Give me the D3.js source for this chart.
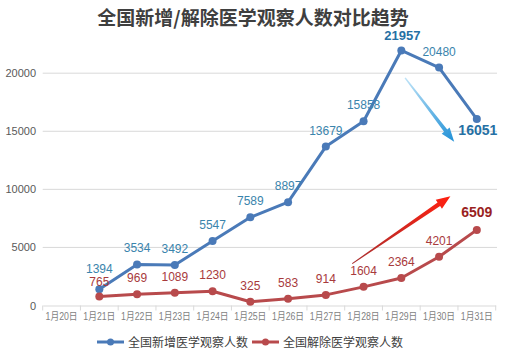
<!DOCTYPE html>
<html><head><meta charset="utf-8">
<script src="https://cdn.jsdelivr.net/npm/d3@7"></script>
<style>body{margin:0;background:#fff}svg{display:block}</style>
</head><body>
<svg id="c" width="508" height="356"></svg>
<script>
const title = "全国新增/解除医学观察人数对比趋势";
const categories = ["1月20日","1月21日","1月22日","1月23日","1月24日","1月25日","1月26日","1月27日","1月28日","1月29日","1月30日","1月31日"];
const seriesNames = ["全国新增医学观察人数","全国解除医学观察人数"];
const newObs = [null,1394,3534,3492,5547,7589,8897,13679,15858,21957,20480,16051];
const releasedObs = [null,765,969,1089,1230,325,583,914,1604,2364,4201,6509];
const yTicks = [0,5000,10000,15000,20000];

const svg = d3.select("#c");
const x = d3.scaleBand().domain(categories).range([42.7, 495.7]).paddingInner(0).paddingOuter(0);
const y = d3.scaleLinear().domain([0,20000]).range([305.5, 73.2]);
const font = "'Liberation Sans', Arial, sans-serif";

// gridlines
svg.append("g").selectAll("line").data(yTicks.slice(1)).join("line")
  .attr("x1",42.7).attr("x2",497).attr("y1",d=>y(d)).attr("y2",d=>y(d))
  .attr("stroke","#d9d9d9").attr("stroke-width",1);

// y axis labels
const ya = svg.append("g").attr("transform","translate(36,0)")
  .call(d3.axisLeft(y).tickValues(yTicks).tickSize(0).tickPadding(0).tickFormat(d3.format("d")));
ya.select(".domain").remove();
ya.selectAll("text").attr("font-family",font).attr("font-size",11).attr("fill","#595959");

// x axis
const xa = svg.append("g").attr("transform",`translate(0,${y(0)})`)
  .call(d3.axisBottom(x).tickSize(0).tickPadding(7));
xa.select(".domain").attr("stroke","#d9d9d9");
xa.selectAll("text").attr("font-family","'Liberation Sans','Noto Sans CJK SC', sans-serif").attr("font-size",10)
  .attr("fill","#7f7f7f").attr("textLength",32).attr("lengthAdjust","spacingAndGlyphs");
// tick marks at band boundaries
svg.append("g").selectAll("line").data(categories.concat(["end"])).join("line")
  .attr("x1",(d,i)=>x.range()[0]+i*x.step()).attr("x2",(d,i)=>x.range()[0]+i*x.step())
  .attr("y1",y(0)).attr("y2",y(0)+5).attr("stroke","#d9d9d9");

// title
svg.append("text").attr("x",253).attr("y",25).attr("text-anchor","middle")
  .attr("font-family","'Noto Sans CJK SC', sans-serif").attr("font-weight","bold")
  .attr("font-size",19).attr("fill","#3f3f3f").text(title);

// arrows (annotations)
const defs = svg.append("defs");
const gb = defs.append("linearGradient").attr("id","gb").attr("gradientUnits","userSpaceOnUse")
  .attr("x1",x("1月29日")+x.bandwidth()*0.6).attr("y1",y(19600)).attr("x2",x("1月31日")).attr("y2",y(14200));
gb.append("stop").attr("offset",0).attr("stop-color","#bfe3f7");
gb.append("stop").attr("offset",1).attr("stop-color","#1e8fd6");
const gr = defs.append("linearGradient").attr("id","gr").attr("gradientUnits","userSpaceOnUse")
  .attr("x1",x("1月28日")+x.bandwidth()*0.2).attr("y1",y(3600)).attr("x2",x("1月30日")+x.bandwidth()*0.8).attr("y2",y(9400));
gr.append("stop").attr("offset",0).attr("stop-color","#a83030");
gr.append("stop").attr("offset",1).attr("stop-color","#ff2010");

function arrow(x1,y1,x2,y2,fill,w0,w1,head,hw){
  const dx=x2-x1, dy=y2-y1, L=Math.hypot(dx,dy), ux=dx/L, uy=dy/L, nx=-uy, ny=ux;
  const bx=x2-ux*head, by=y2-uy*head;
  const pts=[[x1+nx*w0/2,y1+ny*w0/2],[bx+nx*w1/2,by+ny*w1/2],[bx+nx*hw/2,by+ny*hw/2],[x2,y2],
    [bx-nx*hw/2,by-ny*hw/2],[bx-nx*w1/2,by-ny*w1/2],[x1-nx*w0/2,y1-ny*w0/2]];
  svg.append("path").attr("d",d3.line()(pts)+"Z").attr("fill",fill);
}
arrow(x("1月29日")+x.bandwidth()*0.6, y(19600), x("1月31日")-x.bandwidth()*0.1, y(14100), "url(#gb)", 1.5, 4, 14, 10);
arrow(x("1月28日")+x.bandwidth()*0.2, y(3600), x("1月30日")+x.bandwidth()*0.8, y(9400), "url(#gr)", 1, 4.5, 14, 11);

// series
const cx = d => x(d) + x.bandwidth()/2;
const series = [
  {name:seriesNames[0], values:newObs, color:"#4a7ab8", label:"#3a84ac", bold:"#2670a4"},
  {name:seriesNames[1], values:releasedObs, color:"#b84a4c", label:"#a83a3c", bold:"#9a1f22"}
];
series.forEach(s=>{
  const pts = categories.map((c,i)=>({c, v:s.values[i], i})).filter(d=>d.v!=null);
  svg.append("path").datum(pts)
    .attr("d", d3.line().x(d=>cx(d.c)).y(d=>y(d.v)))
    .attr("fill","none").attr("stroke",s.color).attr("stroke-width",3).attr("stroke-linejoin","round");
  svg.append("g").selectAll("circle").data(pts).join("circle")
    .attr("cx",d=>cx(d.c)).attr("cy",d=>y(d.v)).attr("r",4).attr("fill",s.color);
  s.pts = pts;
});

// labels
const blue = series[0], red = series[1];
blue.pts.forEach(d=>{
  const last = d.i===categories.length-1, peak = d.v===d3.max(newObs), first = d.i===1;
  const t = svg.append("text").attr("font-family",font).attr("text-anchor","middle").text(d.v);
  if(last){
    t.attr("x",cx(d.c)+1).attr("y",y(d.v)+16).attr("font-size",14).attr("font-weight","bold").attr("fill",blue.bold);
  } else if(peak){
    t.attr("x",cx(d.c)+1).attr("y",y(d.v)-10).attr("font-size",13).attr("font-weight","bold").attr("fill",blue.bold);
  } else {
    t.attr("x",cx(d.c)).attr("y",y(d.v)-(first?16:12)).attr("font-size",12).attr("fill",blue.label);
  }
});
red.pts.forEach(d=>{
  const last = d.i===categories.length-1, first = d.i===1;
  const t = svg.append("text").attr("font-family",font).attr("text-anchor","middle").text(d.v);
  if(last){
    t.attr("x",cx(d.c)).attr("y",y(d.v)-13).attr("font-size",14).attr("font-weight","bold").attr("fill",red.bold);
  } else {
    t.attr("x",cx(d.c)).attr("y",y(d.v)-(first?10.5:12)).attr("font-size",12).attr("fill",red.label);
  }
});

// legend
const lg = svg.append("g").attr("transform","translate(0,342)");
[[97,blue],[252,red]].forEach(([lx,s])=>{
  lg.append("line").attr("x1",lx).attr("x2",lx+27).attr("y1",0).attr("y2",0).attr("stroke",s.color).attr("stroke-width",3);
  lg.append("circle").attr("cx",lx+13.5).attr("cy",0).attr("r",3.5).attr("fill",s.color);
  lg.append("text").attr("x",lx+31).attr("y",4.5).attr("font-family","'Noto Sans CJK SC', serif")
    .attr("font-size",12).attr("fill","#404040").text(s.name);
});
</script>
</body></html>
